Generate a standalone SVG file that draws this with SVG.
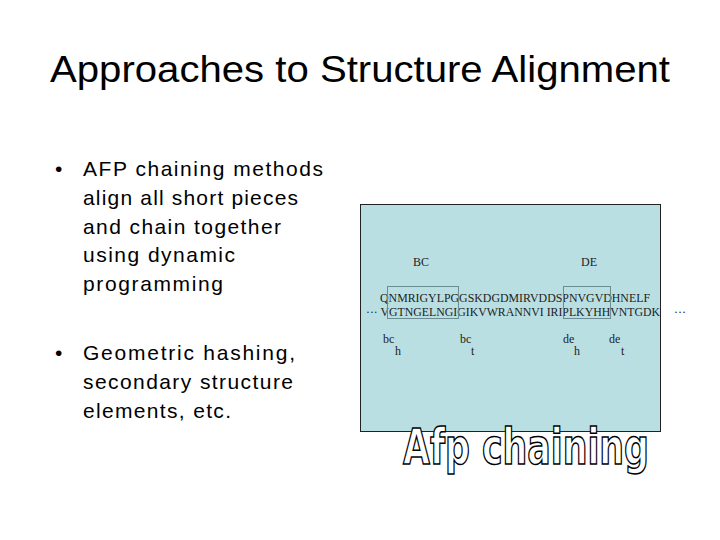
<svg xmlns="http://www.w3.org/2000/svg" width="720" height="540" viewBox="0 0 720 540">
<style>
.t{font-family:"Liberation Sans",Arial,sans-serif;fill:#000}
.s{font-family:"Liberation Serif","Times New Roman",serif;fill:#222;font-size:12px}
.b{fill:none;stroke:#6a8c92;stroke-width:1}
</style>
<rect width="720" height="540" fill="#fff"/>
<text class="t" x="50" y="82" font-size="37" textLength="620" lengthAdjust="spacingAndGlyphs">Approaches to Structure Alignment</text>
<g class="t" font-size="21">
<text x="55" y="176">•</text>
<text x="83" y="176" textLength="240">AFP chaining methods</text>
<text x="83" y="205" textLength="215">align all short pieces</text>
<text x="83" y="234" textLength="198">and chain together</text>
<text x="83" y="262" textLength="152">using dynamic</text>
<text x="83" y="291" textLength="140">programming</text>
<text x="55" y="360">•</text>
<text x="83" y="360" textLength="212">Geometric hashing,</text>
<text x="83" y="389" textLength="210">secondary structure</text>
<text x="83" y="418" textLength="148">elements, etc.</text>
</g>
<g id="figure">
<rect x="360.5" y="204.5" width="300" height="227" fill="#badfe2" stroke="#222"/>
<text class="s" x="413" y="266">BC</text>
<text class="s" x="581" y="266">DE</text>
<text class="s" x="380" y="302" textLength="270" lengthAdjust="spacingAndGlyphs">QNMRIGYLPGGSKDGDMIRVDDSPNVGVDHNELF</text>
<text class="s" x="366" y="316" textLength="294" lengthAdjust="spacingAndGlyphs">··· VGTNGELNGIGIKVWRANNVI IRIPLKYHHVNTGDK</text>
<text class="s" x="674" y="316">···</text>
<rect class="b" x="387.5" y="286.5" width="71" height="32"/>
<rect class="b" x="563.5" y="286.5" width="47" height="32"/>
<g class="s" font-size="10">
<text x="383" y="343">bc</text><text x="395" y="355">h</text>
<text x="460" y="343">bc</text><text x="471" y="355">t</text>
<text x="563" y="343">de</text><text x="574" y="355">h</text>
<text x="609" y="343">de</text><text x="621" y="355">t</text>
</g>
<text x="526" y="464" text-anchor="middle" font-family="'Liberation Sans Narrow','DejaVu Sans Condensed',sans-serif" font-weight="bold" font-size="50" fill="#fff" stroke="#000" stroke-width="1.5" textLength="246" lengthAdjust="spacingAndGlyphs">Afp chaining</text>
</g>
</svg>
